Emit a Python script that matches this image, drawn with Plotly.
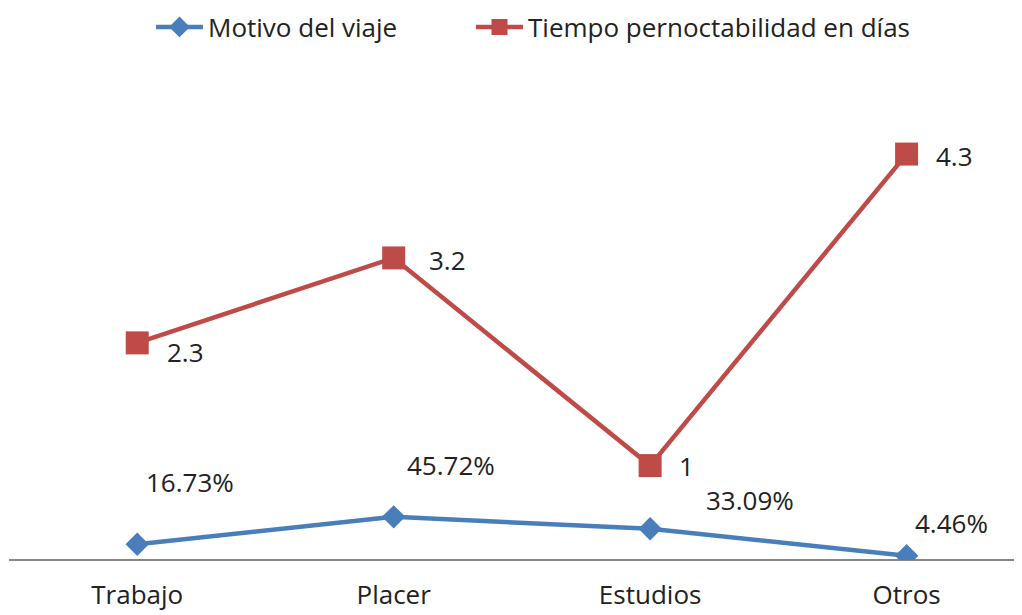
import plotly.graph_objects as go

categories = ["Trabajo", "Placer", "Estudios", "Otros"]
motivo = [0.1673, 0.4572, 0.3309, 0.0446]
tiempo = [2.3, 3.2, 1, 4.3]
motivo_labels = ["16.73%", "45.72%", "33.09%", "4.46%"]
tiempo_labels = ["2.3", "3.2", "1", "4.3"]

# label offsets in pixels (style only)
motivo_off = [(53, 62), (57, 52), (100, 29), (45, 33)]
tiempo_off = [(48, -9), (54, -2), (36, 0), (48, -2)]

FONT = "Open Sans, Liberation Sans, Arial"
BLUE = "#4A7EBB"
RED = "#BE4B48"
TXT = "#222222"
FS = 26

W, H = 1014, 607  # page has 8px body margin
xs = list(range(len(categories)))

fig = go.Figure()
fig.add_trace(go.Scatter(x=xs, y=motivo, mode="lines+markers", name="Motivo del viaje",
                         line=dict(color=BLUE, width=4.5),
                         marker=dict(symbol="diamond", size=18, color=BLUE), legend="legend"))
fig.add_trace(go.Scatter(x=xs, y=tiempo, mode="lines+markers", name="Tiempo pernoctabilidad en días",
                         line=dict(color=RED, width=4.5),
                         marker=dict(symbol="square", size=23, color=RED), legend="legend2"))

anns = []
for i in xs:
    anns.append(dict(x=i, y=motivo[i], xref="x", yref="y", text=motivo_labels[i], showarrow=False,
                     xshift=motivo_off[i][0], yshift=motivo_off[i][1],
                     font=dict(family=FONT, size=FS, color=TXT)))
    anns.append(dict(x=i, y=tiempo[i], xref="x", yref="y", text=tiempo_labels[i], showarrow=False,
                     xshift=tiempo_off[i][0], yshift=tiempo_off[i][1],
                     font=dict(family=FONT, size=FS, color=TXT)))

leg_common = dict(orientation="h", yanchor="middle", yref="container", xref="container",
                  xanchor="left", y=1 - 19 / H, font=dict(family=FONT, size=FS, color=TXT),
                  bgcolor="rgba(0,0,0,0)", itemwidth=47)

fig.update_layout(
    width=W, height=H,
    margin=dict(l=1, r=0, t=80, b=55, autoexpand=False),
    paper_bgcolor="white", plot_bgcolor="white",
    font=dict(family=FONT, size=FS, color=TXT),
    showlegend=True,
    legend=dict(leg_common, x=143 / W),
    legend2=dict(leg_common, x=463 / W),
    annotations=anns,
)
fig.update_xaxes(range=[-0.5, 3.45], tickvals=xs, ticktext=categories, showgrid=False,
                 zeroline=False, showline=False, ticks="", ticklabelstandoff=17,
                 tickfont=dict(size=FS, family=FONT, color=TXT))
fig.update_yaxes(range=[0, 5], showgrid=False, zeroline=True, zerolinecolor="#868686", zerolinewidth=1.5,
                 showticklabels=False, showline=False)

fig.write_html("out.html")
